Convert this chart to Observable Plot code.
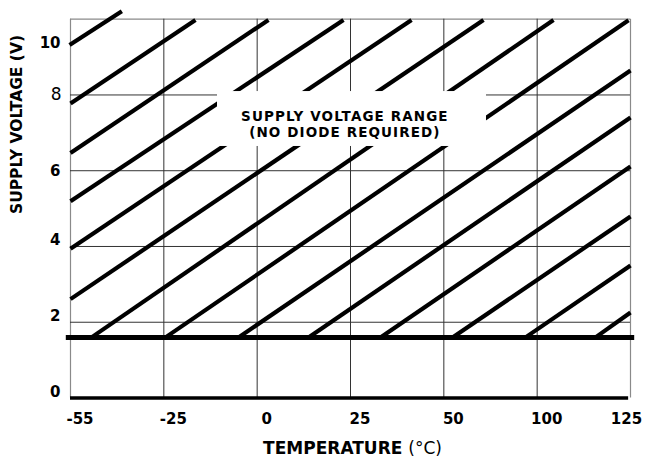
<!DOCTYPE html>
<html><head><meta charset="utf-8">
<script src="https://cdn.jsdelivr.net/npm/d3@7"></script>
<script src="https://cdn.jsdelivr.net/npm/@observablehq/plot@0.6"></script>
<style>body{margin:0;background:#fff}</style>
</head><body><div id="chart"></div>
<script>
// Temperature categories (equally spaced on the chart), index positions 0..6
const xTickLabels = ["-55", "-25", "0", "25", "50", "100", "125"];
const xTickIndex = [0, 1, 2, 3, 4, 5, 6];
// Supply voltage ticks
const yGrid = [2, 4, 6, 8];
const yTicksLow = [0, 2, 4];
const yTicksMid = [6];
const yTicksEight = [8];
const yTicksTop = [10];
// Minimum supply voltage boundary (V)
const minSupply = [1.6];
// Hatch lines of the valid region (x in category index, y in volts)
const hatchX1 = [-0.01, 0, 0, 0, 0, 0, 0.225, 1.018, 1.8, 2.55, 3.321, 4.093, 4.875, 5.625];
const hatchY1 = [9.32, 7.775, 6.47, 5.195, 3.939, 2.61, 1.6, 1.6, 1.6, 1.6, 1.6, 1.6, 1.6, 1.6];
const hatchX2 = [0.55, 1.339, 2.121, 2.925, 3.654, 4.425, 5.175, 5.979, 6, 6, 6, 6, 6, 6];
const hatchY2 = [10.21, 9.98, 9.98, 9.98, 9.98, 9.98, 9.98, 9.97, 8.646, 7.405, 6.111, 4.791, 3.498, 2.257];
// Annotation
const noteText = ["SUPPLY VOLTAGE RANGE\n(NO DIODE REQUIRED)"];
const noteX = [2.94];
const noteY = [7.23];
const noteBoxX = [1.575, 4.457];
const noteBoxY = [6.64, 8.09];
const xTitle = ["TEMPERATURE (°C)"];
const yTitle = ["SUPPLY VOLTAGE (V)"];

const hatches = hatchX1.map((d, i) => ({x1: d, y1: hatchY1[i], x2: hatchX2[i], y2: hatchY2[i]}));
const FONT = "DejaVu Sans";

const chart = Plot.plot({
  width: 647,
  height: 457,
  marginLeft: 70,
  marginRight: 17,
  marginTop: 18.7,
  marginBottom: 59.5,
  style: {fontFamily: FONT, background: "#fff", color: "#000"},
  x: {type: "linear", domain: [0, 6], axis: null},
  y: {type: "linear", domain: [0, 10], axis: null},
  marks: [
    // frame (gray)
    Plot.ruleX([0, 6], {stroke: "#8a8a8a", strokeWidth: 1.2}),
    Plot.ruleY([10], {x1: 0, x2: 6, stroke: "#8a8a8a", strokeWidth: 1.2}),
    // grid
    Plot.ruleX(xTickIndex.slice(1, -1), {stroke: "#333", strokeWidth: 1}),
    Plot.ruleY(yGrid, {x1: 0, x2: 6, stroke: "#333", strokeWidth: 1}),
    // hatch
    Plot.link(hatches, {x1: "x1", y1: "y1", x2: "x2", y2: "y2", stroke: "#000", strokeWidth: 4.2, strokeLinecap: "butt"}),
    // minimum supply line
    Plot.ruleY(minSupply, {x1: -0.045, x2: 6.045, stroke: "#000", strokeWidth: 5}),
    // bottom axis line
    Plot.ruleY([0], {x1: 0, x2: 5.98, stroke: "#000", strokeWidth: 3.5}),
    // annotation box + text
    Plot.rect([0], {x1: noteBoxX[0], x2: noteBoxX[1], y1: noteBoxY[0], y2: noteBoxY[1], fill: "#fff"}),
    Plot.text(noteText, {x: noteX, y: noteY, text: d => d, fontSize: 13.5, fontWeight: "bold", lineHeight: 1.17, fill: "#000", className: "note"}),
    // x tick labels
    Plot.axisX(xTickIndex.slice(0, -1), {anchor: "bottom", tickSize: 0, tickPadding: 15, dx: 9.5, tickFormat: i => xTickLabels[i], fontSize: 15, fontWeight: "bold", label: null}),
    Plot.axisX(xTickIndex.slice(-1), {anchor: "bottom", tickSize: 0, tickPadding: 15, dx: -4, tickFormat: i => xTickLabels[i], fontSize: 15, fontWeight: "bold", label: null}),
    // y tick labels
    Plot.axisY(yTicksLow, {anchor: "left", tickSize: 0, tickPadding: 10, dy: -6, fontSize: 15, fontWeight: "bold", label: null}),
    Plot.axisY(yTicksMid, {anchor: "left", tickSize: 0, tickPadding: 10, dy: 0, fontSize: 15, fontWeight: "bold", label: null}),
    Plot.axisY(yTicksEight, {anchor: "left", tickSize: 0, tickPadding: 9, dy: 0, fontSize: 17, fontWeight: "normal", label: null}),
    Plot.axisY(yTicksTop, {anchor: "left", tickSize: 0, tickPadding: 10, dy: 24, fontSize: 15, fontWeight: "bold", label: null}),
    // axis titles
    Plot.text(xTitle, {frameAnchor: "bottom", text: d => d, dx: 2, dy: 50.5, fontSize: 17, fontWeight: "bold", lineAnchor: "middle"}),
    Plot.text(yTitle, {frameAnchor: "left", text: d => d, rotate: -90, dx: -53.3, dy: 5.4, fontSize: 15.5, fontWeight: "bold", lineAnchor: "middle"})
  ]
});

chart.querySelectorAll("g.note text").forEach(t => t.setAttribute("letter-spacing", "1.1"));
chart.querySelectorAll("text").forEach(t => {
  if (t.textContent === "TEMPERATURE (°C)") {
    t.textContent = "TEMPERATURE ";
    const ts = document.createElementNS("http://www.w3.org/2000/svg", "tspan");
    ts.setAttribute("font-weight", "normal");
    ts.textContent = "(°C)";
    t.appendChild(ts);
  }
});
document.getElementById("chart").appendChild(chart);
</script>
</body></html>
